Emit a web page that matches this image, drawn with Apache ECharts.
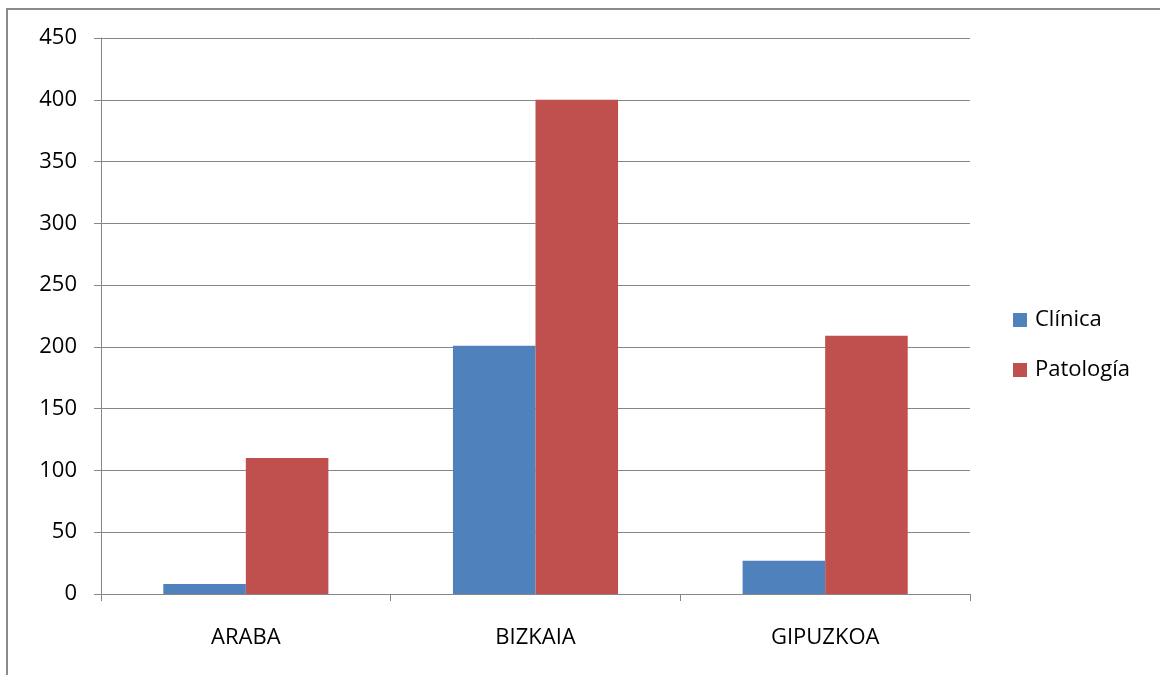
<!DOCTYPE html>
<html><head><meta charset="utf-8">
<script src="https://cdn.jsdelivr.net/npm/echarts@6/dist/echarts.min.js"></script>
<style>html,body{margin:0;padding:0;background:#fff;}#c{width:1160px;height:675px;}</style>
</head><body><div id="c"></div>
<script>
const categories = ['ARABA', 'BIZKAIA', 'GIPUZKOA'];
const clinica = [8, 201, 27];
const patologia = [110, 400, 209];
const yTicks = [0, 50, 100, 150, 200, 250, 300, 350, 400, 450];

const FONT = 'Open Sans';
const chart = echarts.init(document.getElementById('c'), null, {renderer: 'canvas'});
chart.setOption({
  animation: false,
  backgroundColor: '#fff',
  textStyle: {fontFamily: FONT},
  graphic: [{
    type: 'rect', silent: true,
    shape: {x: 7, y: 9, width: 1300, height: 800},
    style: {fill: 'none', stroke: '#8a8a8a', lineWidth: 2}
  }],
  grid: {left: 101, right: 190, top: 38, bottom: 81, containLabel: false},
  legend: {
    orient: 'vertical', left: 1013, top: 309, padding: 0,
    itemWidth: 14, itemHeight: 14, itemGap: 28,
    icon: 'rect',
    data: ['Clínica', 'Patología'],
    textStyle: {fontFamily: FONT, fontSize: 22, color: '#000', padding: [0, 0, 0, 3]}
  },
  xAxis: {
    type: 'category', data: categories,
    axisLine: {lineStyle: {color: '#868686', width: 1}},
    axisTick: {show: true, length: 7, lineStyle: {color: '#868686'}},
    axisLabel: {fontFamily: FONT, fontSize: 22, color: '#000', margin: 33}
  },
  yAxis: {
    type: 'value', min: 0, max: 450, interval: 50,
    axisLine: {show: true, lineStyle: {color: '#868686', width: 1}},
    axisTick: {show: true, length: 7, lineStyle: {color: '#868686'}},
    splitLine: {lineStyle: {color: '#868686', width: 1}},
    axisLabel: {fontFamily: FONT, fontSize: 22, color: '#000', margin: 24,
      formatter: v => yTicks.includes(v) ? String(v) : ''}
  },
  series: [
    {name: 'Clínica', type: 'bar', data: clinica, barGap: '0%', barCategoryGap: '43%',
     itemStyle: {color: '#4f81bd'}},
    {name: 'Patología', type: 'bar', data: patologia, barGap: '0%', barCategoryGap: '43%',
     itemStyle: {color: '#c0504d'}}
  ]
});
</script></body></html>
